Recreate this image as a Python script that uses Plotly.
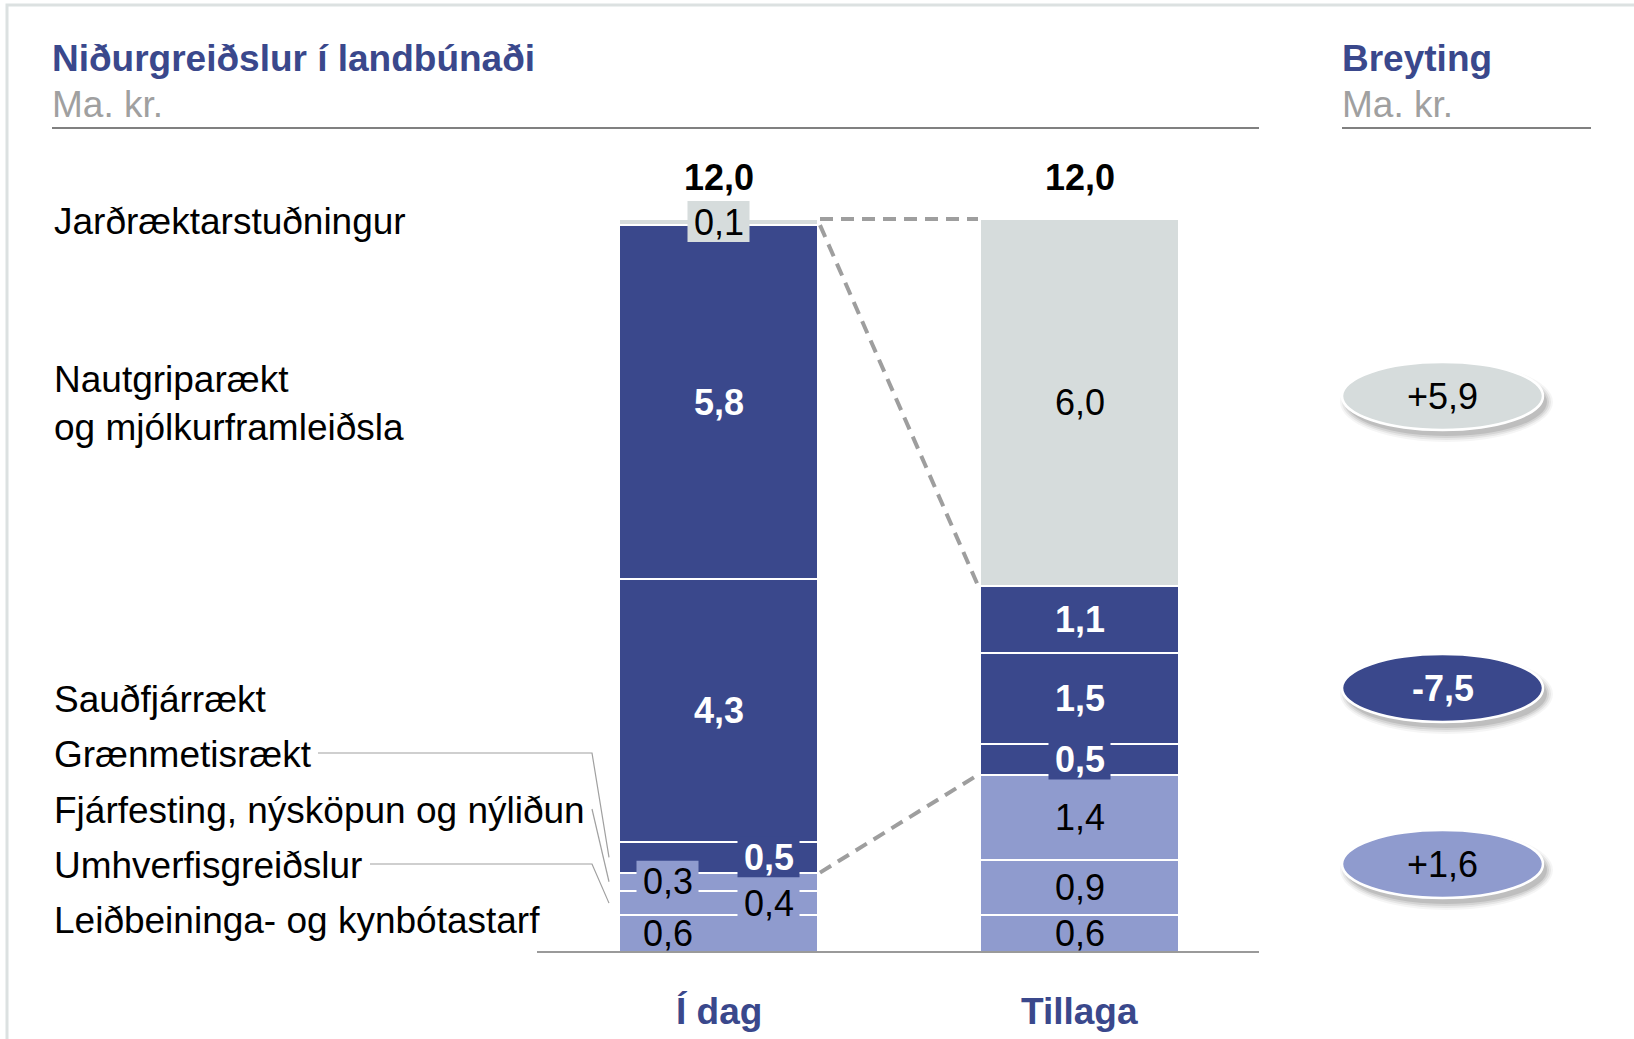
import plotly.graph_objects as go

# ---- data (Ma. kr.), segments listed bottom to top ----
segment_names = [
    "Leiðbeininga- og kynbótastarf",
    "Umhverfisgreiðslur",
    "Fjárfesting, nýsköpun og nýliðun",
    "Grænmetisrækt",
    "Sauðfjárrækt",
    "Nautgriparækt<br>og mjólkurframleiðsla",
    "Jarðræktarstuðningur",
]
segment_groups = ["light", "light", "light", "dark", "dark", "dark", "gray"]
columns = ["Í dag", "Tillaga"]
values_i_dag = [0.6, 0.4, 0.3, 0.5, 4.3, 5.8, 0.1]
values_tillaga = [0.6, 0.9, 1.4, 0.5, 1.5, 1.1, 6.0]
change_groups = ["gray", "dark", "light"]

title_text = "Niðurgreiðslur í landbúnaði"
change_title = "Breyting"
unit_text = "Ma. kr."

# ---- styling ----
FONT = "Liberation Sans, Arial, sans-serif"
DARK = "#3A488C"
LIGHT = "#8F9BCE"
GRAY = "#D6DCDC"
LINE_GRAY = "#9E9E9E"
group_colors = {"light": LIGHT, "dark": DARK, "gray": GRAY}

W, H = 1634, 1039
BASE_PX = 952          # pixel row of value 0
PX_PER_UNIT = 733 / 12  # vertical pixels per Ma. kr.
COL0_PX = 718.5        # pixel column of the first bar centre
COL_STEP = 361         # pixels between bar centres
BAR_PX = 199


def xd(px):
    return (px - COL0_PX) / COL_STEP


def yd(py):
    return (BASE_PX - py) / PX_PER_UNIT


def dx(px):
    return px / COL_STEP


def dy(px):
    return px / PX_PER_UNIT


def fmt(v):
    return f"{v:.1f}".replace(".", ",")


bar_w = dx(BAR_PX)
series = [values_i_dag, values_tillaga]

fig = go.Figure()

# stacked segments
for i, name in enumerate(segment_names):
    fig.add_trace(go.Bar(
        x=[0, 1],
        y=[values_i_dag[i], values_tillaga[i]],
        width=bar_w,
        name=name.replace("<br>", " "),
        marker=dict(color=group_colors[segment_groups[i]],
                    line=dict(color="white", width=2)),
        hoverinfo="skip",
        showlegend=False,
    ))

shapes = []
annotations = []

# label placement inside the bars
label_side = [
    ["left", "right", "left", "right", "center", "center", "center"],
    ["center"] * 7,
]
label_box = [
    [False, True, True, True, False, False, True],
    [False, False, False, True, False, False, False],
]
side_px = {"left": -51, "right": 50, "center": 0}

for c, vals in enumerate(series):
    cum = 0.0
    for i, v in enumerate(vals):
        mid = cum + v / 2
        cum += v
        g = segment_groups[i]
        lx = c + dx(side_px[label_side[c][i]])
        if label_box[c][i]:
            shapes.append(dict(
                type="rect", xref="x", yref="y", layer="above",
                x0=lx - dx(31), x1=lx + dx(31),
                y0=mid - dy(20), y1=mid + dy(21),
                fillcolor=group_colors[g], line=dict(width=0),
            ))
        txt = fmt(v)
        if g == "dark":
            txt = f"<b>{txt}</b>"
            color = "white"
        else:
            color = "black"
        annotations.append(dict(
            x=lx, y=mid, xref="x", yref="y", text=txt, showarrow=False,
            xanchor="center", yanchor="middle",
            font=dict(family=FONT, size=36, color=color),
        ))
    # total above bar
    annotations.append(dict(
        x=c, y=cum + dy(42), xref="x", yref="y", text=f"<b>{fmt(cum)}</b>",
        showarrow=False, xanchor="center", yanchor="middle",
        font=dict(family=FONT, size=36, color="black"),
    ))
    # category label
    annotations.append(dict(
        x=c, y=yd(1011), xref="x", yref="y", text=f"<b>{columns[c]}</b>",
        showarrow=False, xanchor="center", yanchor="middle",
        font=dict(family=FONT, size=37, color=DARK),
    ))


def cumsum(vals):
    out, s = [], 0.0
    for v in vals:
        s += v
        out.append(s)
    return out


cum_a = cumsum(values_i_dag)
cum_b = cumsum(values_tillaga)

# dashed connectors between group boundaries of the two bars
for k in (6, 5, 2):
    shapes.append(dict(
        type="line", xref="x", yref="y", layer="above",
        x0=bar_w / 2 + dx(2), x1=1 - bar_w / 2 - dx(2),
        y0=cum_a[k], y1=cum_b[k],
        line=dict(color=LINE_GRAY, width=4, dash="13px,8px"),
    ))

# baseline
shapes.append(dict(
    type="line", xref="x", yref="y", layer="above",
    x0=xd(537), x1=xd(1259), y0=0, y1=0,
    line=dict(color="#9A9A9A", width=2),
))

# header rules
shapes.append(dict(type="line", xref="x", yref="y", x0=xd(52), x1=xd(1259),
                   y0=yd(128), y1=yd(128), line=dict(color="#808080", width=2)))
shapes.append(dict(type="line", xref="x", yref="y", x0=xd(1342), x1=xd(1591),
                   y0=yd(128), y1=yd(128), line=dict(color="#808080", width=2)))

# outer frame
shapes.append(dict(type="rect", xref="x", yref="y", layer="below",
                   x0=xd(7), x1=xd(W + 10), y0=yd(H + 10), y1=yd(5),
                   line=dict(color="#DCE1E1", width=3), fillcolor="rgba(0,0,0,0)"))

# headers
annotations += [
    dict(x=xd(50), y=yd(58), text=f"<b>{title_text}</b>", xanchor="left",
         font=dict(family=FONT, size=37, color=DARK)),
    dict(x=xd(50), y=yd(104), text=unit_text, xanchor="left",
         font=dict(family=FONT, size=37, color="#A0A0A0")),
    dict(x=xd(1340), y=yd(58), text=f"<b>{change_title}</b>", xanchor="left",
         font=dict(family=FONT, size=37, color=DARK)),
    dict(x=xd(1340), y=yd(104), text=unit_text, xanchor="left",
         font=dict(family=FONT, size=37, color="#A0A0A0")),
]
for a in annotations[-4:]:
    a.update(xref="x", yref="y", showarrow=False, yanchor="middle")

# row labels on the left
row_label_px = [920, 865, 810, 754, 699, 403, 221]
for name, py in zip(segment_names, row_label_px):
    annotations.append(dict(
        x=xd(52), y=yd(py), xref="x", yref="y", text=name, showarrow=False,
        xanchor="left", yanchor="middle", align="left",
        font=dict(family=FONT, size=37, color="black"),
    ))

# leader lines from small-segment labels to their segments
leader_start_px = {1: 370, 2: 592, 3: 318}
mids_a = [cum_a[i] - values_i_dag[i] / 2 for i in range(7)]
for i, sx in leader_start_px.items():
    ly = yd(row_label_px[i] - 1)
    path = (f"M {xd(sx)},{ly} L {xd(592)},{ly} "
            f"L {xd(609)},{mids_a[i]}")
    shapes.append(dict(type="path", xref="x", yref="y", path=path,
                       line=dict(color="#A0A0A0", width=1.2)))

# change ovals
change_row_px = [396, 688, 864]
ecx, erx, ery = 1442.5, 100.5, 34
for g, py in zip(change_groups, change_row_px):
    before = sum(v for v, gg in zip(values_i_dag, segment_groups) if gg == g)
    after = sum(v for v, gg in zip(values_tillaga, segment_groups) if gg == g)
    d = round(after - before, 1)
    txt = f"{d:+.1f}".replace(".", ",")
    # soft shadow
    for grow, op in ((6, 0.04), (4, 0.06), (2, 0.08), (0, 0.10)):
        shapes.append(dict(
            type="circle", xref="x", yref="y", layer="above",
            x0=xd(ecx - erx + 4 - grow), x1=xd(ecx + erx + 4 + grow),
            y0=yd(py + ery + 6 + grow), y1=yd(py - ery + 6 - grow),
            fillcolor=f"rgba(0,0,0,{op})", line=dict(width=0),
        ))
    shapes.append(dict(
        type="circle", xref="x", yref="y", layer="above",
        x0=xd(ecx - erx), x1=xd(ecx + erx),
        y0=yd(py + ery), y1=yd(py - ery),
        fillcolor=group_colors[g], line=dict(color="white", width=2.5),
    ))
    if g == "dark":
        t, col = f"<b>{txt}</b>", "white"
    else:
        t, col = txt, "black"
    annotations.append(dict(
        x=xd(ecx), y=yd(py), xref="x", yref="y", text=t, showarrow=False,
        xanchor="center", yanchor="middle",
        font=dict(family=FONT, size=36, color=col),
    ))

fig.update_layout(
    width=W, height=H,
    margin=dict(l=0, r=0, t=0, b=0, pad=0),
    barmode="stack",
    paper_bgcolor="white", plot_bgcolor="white",
    xaxis=dict(range=[xd(0), xd(W)], visible=False, fixedrange=True),
    yaxis=dict(range=[yd(H), yd(0)], visible=False, fixedrange=True),
    shapes=shapes,
    annotations=annotations,
    showlegend=False,
)

fig.write_html("out.html", config={"displayModeBar": False})
